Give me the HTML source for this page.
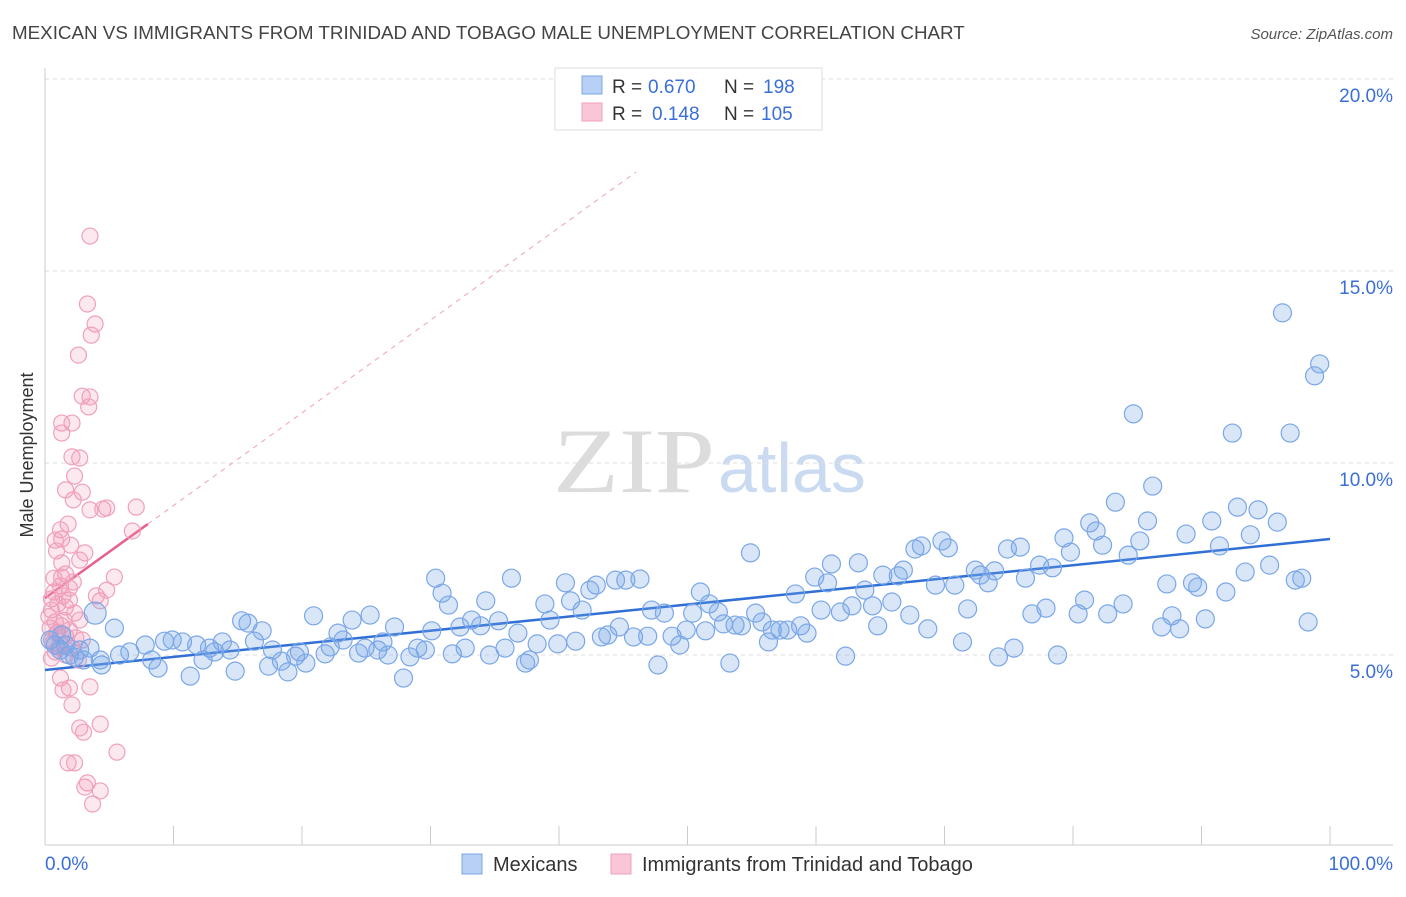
<!DOCTYPE html>
<html><head><meta charset="utf-8"><style>
body{margin:0;background:#fff;font-family:"Liberation Sans",sans-serif;}
</style></head><body>
<svg id="chart" width="1406" height="892" viewBox="0 0 1406 892" xmlns="http://www.w3.org/2000/svg" font-family="Liberation Sans, sans-serif">
<text x="12" y="39" font-size="18.8" fill="#444">MEXICAN VS IMMIGRANTS FROM TRINIDAD AND TOBAGO MALE UNEMPLOYMENT CORRELATION CHART</text>
<text x="1393" y="39" font-size="15" fill="#555" font-style="italic" text-anchor="end">Source: ZipAtlas.com</text>
<g>
<text x="553" y="492" style="font-family:'Liberation Serif',serif;font-size:92px;fill:#dcdcdc" textLength="162" lengthAdjust="spacingAndGlyphs">ZIP</text>
<text x="718" y="492" style="font-family:'Liberation Sans',sans-serif;font-size:70px;fill:#c9daf1">atlas</text>
</g>
<g id="grid"></g>
<g id="axes"></g>
<g id="trend"></g>
<g id="pts"></g>
<text transform="translate(33,455) rotate(-90)" font-size="18" fill="#333" text-anchor="middle">Male Unemployment</text>
<g>
<rect x="555" y="68" width="267" height="62" fill="#fff" stroke="#ddd"/>
<rect x="582" y="76" width="20" height="18" fill="#b8d0f5" stroke="#7aa7e8"/>
<rect x="582" y="103" width="20" height="18" fill="#f8c6d6" stroke="#f0a0bc"/>
<text x="612" y="93" font-size="19" fill="#333">R =</text>
<text x="648" y="93" font-size="19" fill="#3a6fd8">0.670</text>
<text x="724" y="93" font-size="19" fill="#333">N =</text>
<text x="763" y="93" font-size="19" fill="#3a6fd8">198</text>
<text x="612" y="120" font-size="19" fill="#333">R =</text>
<text x="652" y="120" font-size="19" fill="#3a6fd8">0.148</text>
<text x="724" y="120" font-size="19" fill="#333">N =</text>
<text x="761" y="120" font-size="19" fill="#3a6fd8">105</text>
</g>
<g>
<rect x="462" y="854" width="20" height="20" fill="#b8d0f5" stroke="#7aa7e8"/>
<text x="493" y="871" font-size="20" fill="#333">Mexicans</text>
<rect x="611" y="854" width="20" height="20" fill="#f8c6d6" stroke="#f0a0bc"/>
<text x="642" y="871" font-size="20" fill="#333">Immigrants from Trinidad and Tobago</text>
</g>
</svg>
<script>
const yTicks=[5,10,15,20];
const xTickLabels=["0.0%","100.0%"];
const blueX=[3.9,5.4,1.9,2.7,4.4,5.8,6.6,7.8,8.3,8.8,9.3,9.9,10.7,11.3,11.8,12.3,12.8,13.2,13.8,14.4,14.8,15.3,15.8,16.3,16.9,17.4,17.7,18.4,18.9,19.5,19.8,20.3,20.9,21.8,22.2,22.8,23.2,23.9,24.4,24.9,25.3,25.9,26.3,26.7,27.2,27.9,28.4,29.0,29.6,30.1,30.4,30.9,31.4,31.7,32.3,32.7,33.2,33.9,34.3,34.6,35.3,35.8,36.3,36.8,37.4,37.7,38.3,38.9,39.3,39.9,40.5,40.9,41.3,41.8,42.4,42.9,43.3,43.8,44.4,44.7,45.2,45.8,46.3,46.9,47.2,47.7,48.2,48.8,49.4,49.9,50.4,51.0,51.4,51.7,52.4,52.8,53.3,53.7,54.2,54.9,55.3,55.8,56.3,56.6,57.2,57.8,58.4,58.8,59.3,59.9,60.4,60.9,61.2,61.9,62.3,62.8,63.3,63.8,64.4,64.8,65.2,65.9,66.4,66.8,67.3,67.7,68.2,68.7,69.3,69.8,70.3,70.8,71.4,71.8,72.4,72.8,73.4,73.9,74.2,74.9,75.4,75.9,76.3,76.8,77.4,77.9,78.4,78.8,79.3,79.8,80.4,80.9,81.3,81.8,82.3,82.7,83.3,83.9,84.3,84.7,85.2,85.8,86.2,86.9,87.3,87.7,88.3,88.8,89.3,89.7,90.3,90.8,91.4,91.9,92.4,92.8,93.4,93.8,94.4,95.3,95.9,96.3,96.9,97.3,97.8,98.3,98.8,99.2,0.4,0.8,1.2,1.6,2.3,3.0,3.5,4.3,1.3];
const blueY=[6.09,5.70,5.0,5.13,4.74,5.0,5.08,5.26,4.87,4.66,5.36,5.39,5.34,4.45,5.26,4.87,5.18,5.08,5.34,5.13,4.58,5.89,5.83,5.36,5.63,4.71,5.13,4.84,4.56,4.97,5.08,4.79,6.02,5.03,5.21,5.57,5.39,5.91,5.05,5.18,6.04,5.13,5.34,5.0,5.73,4.40,4.95,5.18,5.13,5.63,7.0,6.61,6.3,5.03,5.73,5.18,5.91,5.76,6.41,5.0,5.89,5.18,7.0,5.57,4.79,4.87,5.29,6.33,5.91,5.29,6.88,6.41,5.36,6.17,6.69,6.82,5.47,5.52,6.95,5.73,6.95,5.47,6.98,5.49,6.17,4.74,6.09,5.49,5.26,5.65,6.09,6.64,5.63,6.33,6.12,5.81,4.79,5.78,5.76,7.66,6.09,5.86,5.34,5.65,5.65,5.65,6.59,5.76,5.57,7.03,6.17,6.88,7.37,6.12,4.97,6.28,7.40,6.69,6.28,5.76,7.08,6.38,7.06,7.21,6.04,7.76,7.84,5.68,6.82,7.97,7.79,6.82,5.34,6.2,7.21,7.08,6.88,7.19,4.95,7.76,5.18,7.81,7.0,6.07,7.34,6.22,7.27,5.0,8.05,7.68,6.07,6.43,8.44,8.23,7.86,6.07,8.98,6.33,7.60,11.28,7.97,8.49,9.4,5.73,6.85,6.02,5.68,8.15,6.88,6.77,5.94,8.49,7.84,6.64,10.78,8.85,7.16,8.13,8.78,7.34,8.46,13.91,10.78,6.95,7.0,5.86,12.27,12.58,5.39,5.26,5.13,5.26,4.95,4.87,5.18,4.87,5.52];
const pinkX=[3.5,3.3,3.9,3.6,2.6,2.9,3.5,3.4,1.3,2.1,1.3,2.1,2.7,1.6,2.9,2.3,2.2,3.5,4.5,4.8,7.1,1.8,1.2,1.3,0.8,2.0,0.9,3.1,2.7,1.3,6.8,1.6,1.3,0.7,2.2,1.2,1.9,0.7,1.4,0.5,1.9,5.4,4.8,4.0,4.3,1.0,1.6,0.5,2.3,2.7,0.8,1.3,0.4,1.9,0.9,1.6,0.5,2.9,1.2,2.1,0.8,1.6,0.5,2.6,1.2,1.9,1.4,3.5,2.1,4.3,2.7,3.0,5.6,1.8,2.3,3.3,3.1,4.3,3.7,1.0,0.6,1.5,2.4,0.3,1.1];
const pinkY=[15.91,14.14,13.62,13.33,12.81,11.74,11.72,11.46,11.04,11.04,10.78,10.16,10.13,9.3,9.24,9.66,9.04,8.78,8.8,8.83,8.85,8.41,8.26,8.02,7.99,7.86,7.71,7.66,7.47,7.4,8.23,7.11,7.03,7.0,6.9,6.8,6.74,6.64,6.54,6.46,6.43,7.03,6.69,6.54,6.41,6.33,6.25,6.17,6.09,5.91,5.86,5.76,5.7,5.65,5.57,5.49,5.39,5.39,5.26,5.18,5.08,5.0,4.92,4.87,4.4,4.14,4.09,4.17,3.7,3.2,3.1,2.99,2.47,2.19,2.19,1.67,1.56,1.46,1.12,5.6,5.3,5.9,5.45,6.0,5.2];
const blueTrend=[4.61,8.02];
const pinkTrend=[6.48,8.41];
const pinkTrendEnd=8;

const NS="http://www.w3.org/2000/svg";
const X0=45,X1=1330,Y0=847,PY=38.4;
function sx(v){return X0+(X1-X0)*v/100;}
function sy(v){return Y0-v*PY;}
function mk(tag,attrs,parent){const e=document.createElementNS(NS,tag);for(const k in attrs)e.setAttribute(k,attrs[k]);document.getElementById(parent).appendChild(e);return e;}

yTicks.forEach(t=>{
  const l=mk('line',{x1:45,x2:1393,y1:sy(t),y2:sy(t),stroke:'#ddd','stroke-dasharray':'4,4'},'grid');
  
  
  const tx=mk('text',{x:1393,y:sy(t)+23,'font-size':19,fill:'#3a6fd8','text-anchor':'end'},'grid');
  tx.textContent=t.toFixed(1)+'%';
  
  
});
let ax=mk('line',{x1:45,x2:45,y1:68,y2:845,stroke:'#ccc'},'axes');


ax=mk('line',{x1:45,x2:1393,y1:845,y2:845,stroke:'#ccc'},'axes');


for(let i=0;i<=10;i++){
  const t=mk('line',{x1:sx(i*10),x2:sx(i*10),y1:826,y2:845,stroke:'#ccc'},'axes');
  
  
}
let xl=mk('text',{x:45,y:870,'font-size':19,fill:'#3a6fd8'},'axes');
xl.textContent=xTickLabels[0];


xl=mk('text',{x:1393,y:870,'font-size':19,fill:'#3a6fd8','text-anchor':'end'},'axes');
xl.textContent=xTickLabels[1];



for(let i=0;i<pinkX.length;i++){
  const c=mk('circle',{cx:sx(pinkX[i]),cy:sy(pinkY[i]),r:8,fill:'rgba(243,150,182,0.22)',stroke:'#f0a0bc','stroke-width':1.2},'pts');
  
  
}
for(let i=0;i<blueX.length;i++){
  const c=mk('circle',{cx:sx(blueX[i]),cy:sy(blueY[i]),r:i===0?11:9,fill:'rgba(120,165,230,0.28)',stroke:'#7aa7e8','stroke-width':1.2},'pts');
  
  
}
const slope=(pinkTrend[1]-pinkTrend[0])/pinkTrendEnd;
let ln=mk('line',{x1:sx(pinkTrendEnd),y1:sy(pinkTrend[1]),x2:sx(46),y2:sy(pinkTrend[0]+slope*46),stroke:'#f0a0bc','stroke-dasharray':'5,5','stroke-width':1},'trend');


ln=mk('line',{x1:sx(0),y1:sy(pinkTrend[0]),x2:sx(pinkTrendEnd),y2:sy(pinkTrend[1]),stroke:'#e8608c','stroke-width':2.5},'trend');


ln=mk('line',{x1:sx(0),y1:sy(blueTrend[0]),x2:sx(100),y2:sy(blueTrend[1]),stroke:'#2f6fd6','stroke-width':2.5},'trend');


</script>
</body></html>
